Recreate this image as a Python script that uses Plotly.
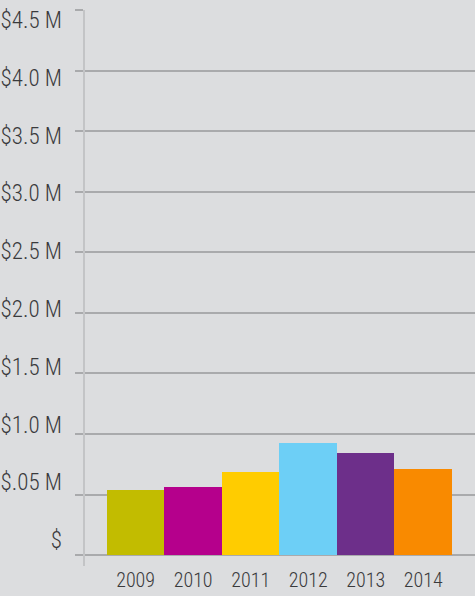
import plotly.graph_objects as go

# yearly totals, in millions of dollars
years = ["2009", "2010", "2011", "2012", "2013", "2014"]
totals_m = [0.537, 0.562, 0.686, 0.926, 0.843, 0.711]
bar_colors = ["#c2bc00", "#b5008c", "#ffcc00", "#6dcff6", "#6d2f8a", "#f98a00"]

tick_vals = [0, 0.5, 1.0, 1.5, 2.0, 2.5, 3.0, 3.5, 4.0, 4.5]
tick_text = ["$", "$.05 M", "$1.0 M", "$1.5 M", "$2.0 M", "$2.5 M",
             "$3.0 M", "$3.5 M", "$4.0 M", "$4.5 M"]

BG = "#dcdddf"
GRID = "#a9aaac"
TEXT = "#3a3a3c"
FONT = "Roboto Condensed, DejaVu Sans Condensed, sans-serif"

fig = go.Figure()

fig.add_trace(go.Bar(
    x=years,
    y=totals_m,
    marker=dict(color=bar_colors, line=dict(width=0)),
    showlegend=False,
    hoverinfo="x+y",
))

# invisible helper trace so the label axis gets drawn
fig.add_trace(go.Scatter(x=[years[0]], y=[0], yaxis="y2", mode="markers",
                         marker=dict(opacity=0), showlegend=False, hoverinfo="skip"))

fig.update_layout(
    width=475,
    height=596,
    paper_bgcolor=BG,
    plot_bgcolor=BG,
    margin=dict(l=85, r=0, t=10, b=30),
    bargap=0,
    font=dict(family=FONT, color=TEXT),
    xaxis=dict(
        type="category",
        range=[-0.88, 5.9],
        automargin=False,
        showgrid=False,
        showline=False,
        zeroline=False,
        ticks="",
        tickfont=dict(size=20, family=FONT, color=TEXT, weight=300),
    ),
    yaxis=dict(
        range=[-0.09, 4.5],
        automargin=False,
        tickvals=tick_vals,
        showticklabels=False,
        showgrid=True,
        gridcolor=GRID,
        gridwidth=2,
        zeroline=False,
        ticks="outside",
        ticklen=8,
        tickwidth=2,
        tickcolor=GRID,
        showline=True,
        linecolor="#c3c4c6",
        linewidth=2,
    ),
    # the labels in the original sit on a slightly tighter spacing than the grid
    yaxis2=dict(
        overlaying="y",
        side="left",
        automargin=False,
        range=[-0.225, 4.5865],
        tickvals=tick_vals,
        ticktext=tick_text,
        showgrid=False,
        zeroline=False,
        showline=False,
        ticks="",
        ticklabelstandoff=22,
        tickfont=dict(size=23, family=FONT, color=TEXT, weight=300),
    ),
)

# drop the browser's default body margin so the figure fills the window
fig.write_html("out.html",
               config={"displayModeBar": False},
               post_script="document.body.style.margin='0';"
                           "document.body.style.background='#dcdddf';")
